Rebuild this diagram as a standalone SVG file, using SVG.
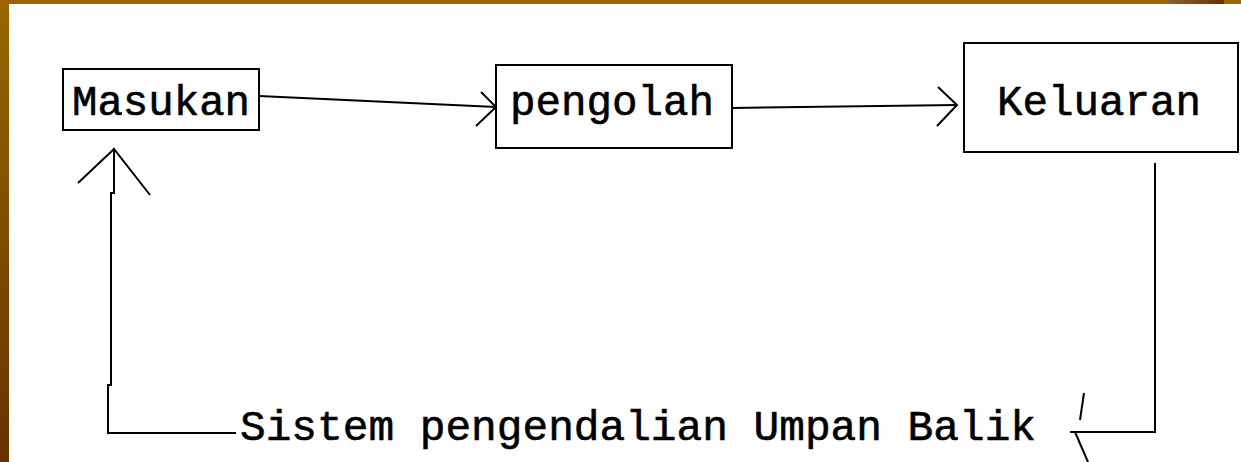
<svg xmlns="http://www.w3.org/2000/svg" width="1241" height="462" viewBox="0 0 1241 462">
  <defs>
    <linearGradient id="leftbar" x1="0" y1="0" x2="0" y2="1">
      <stop offset="0" stop-color="#996600"/>
      <stop offset="1" stop-color="#663300"/>
    </linearGradient>
    <linearGradient id="patch" x1="0" y1="0" x2="1" y2="0">
      <stop offset="0" stop-color="#8c6433"/>
      <stop offset="1" stop-color="#663300"/>
    </linearGradient>
  </defs>
  <style>
    .box { fill: #ffffff; stroke: #000000; stroke-width: 2; }
    .lbl { font-family: "Liberation Mono", "Courier New", monospace; font-size: 42px; fill: #000000; stroke: #000000; stroke-width: 0.6; }
    .ln { fill: none; stroke: #000000; stroke-width: 2; }
  </style>
  <rect x="0" y="0" width="1241" height="462" fill="#ffffff"/>
  <rect x="0" y="0" width="1241" height="4" fill="#996600"/>
  <rect x="1165" y="0" width="59" height="4" fill="url(#patch)"/>
  <rect x="0" y="0" width="9" height="462" fill="url(#leftbar)"/>

  <g id="connectors">
    <path class="ln" d="M259,96 L496,107"/>
    <path class="ln" d="M481,92 L496,107 L476,126"/>
    <path class="ln" d="M733,108 L957,105"/>
    <path class="ln" d="M938,87 L957,105 L937,126"/>
    <path class="ln" d="M1155,163 L1155,432 L1070,432"/>
    <path class="ln" d="M1084,393 L1080,420"/>
    <path class="ln" d="M1075,432 L1088,462"/>
    <path class="ln" d="M236,433 L108,433 L108,385 L111,385 L111,193 L114,193 L114,148"/>
    <path class="ln" d="M78,183 L114,149 L150,195"/>
  </g>

  <g id="masukan">
    <rect class="box" x="63" y="69" width="196" height="61"/>
    <text class="lbl" x="72" y="115" textLength="178" lengthAdjust="spacingAndGlyphs">Masukan</text>
  </g>
  <g id="pengolah">
    <rect class="box" x="496" y="65" width="236" height="83"/>
    <text class="lbl" x="510" y="115" textLength="204" lengthAdjust="spacingAndGlyphs">pengolah</text>
  </g>
  <g id="keluaran">
    <rect class="box" x="964" y="43" width="274" height="109"/>
    <text class="lbl" x="997" y="115" textLength="204" lengthAdjust="spacingAndGlyphs">Keluaran</text>
  </g>
  <g id="feedback-label">
    <text class="lbl" x="240" y="440" textLength="796" lengthAdjust="spacingAndGlyphs">Sistem pengendalian Umpan Balik</text>
  </g>
</svg>
